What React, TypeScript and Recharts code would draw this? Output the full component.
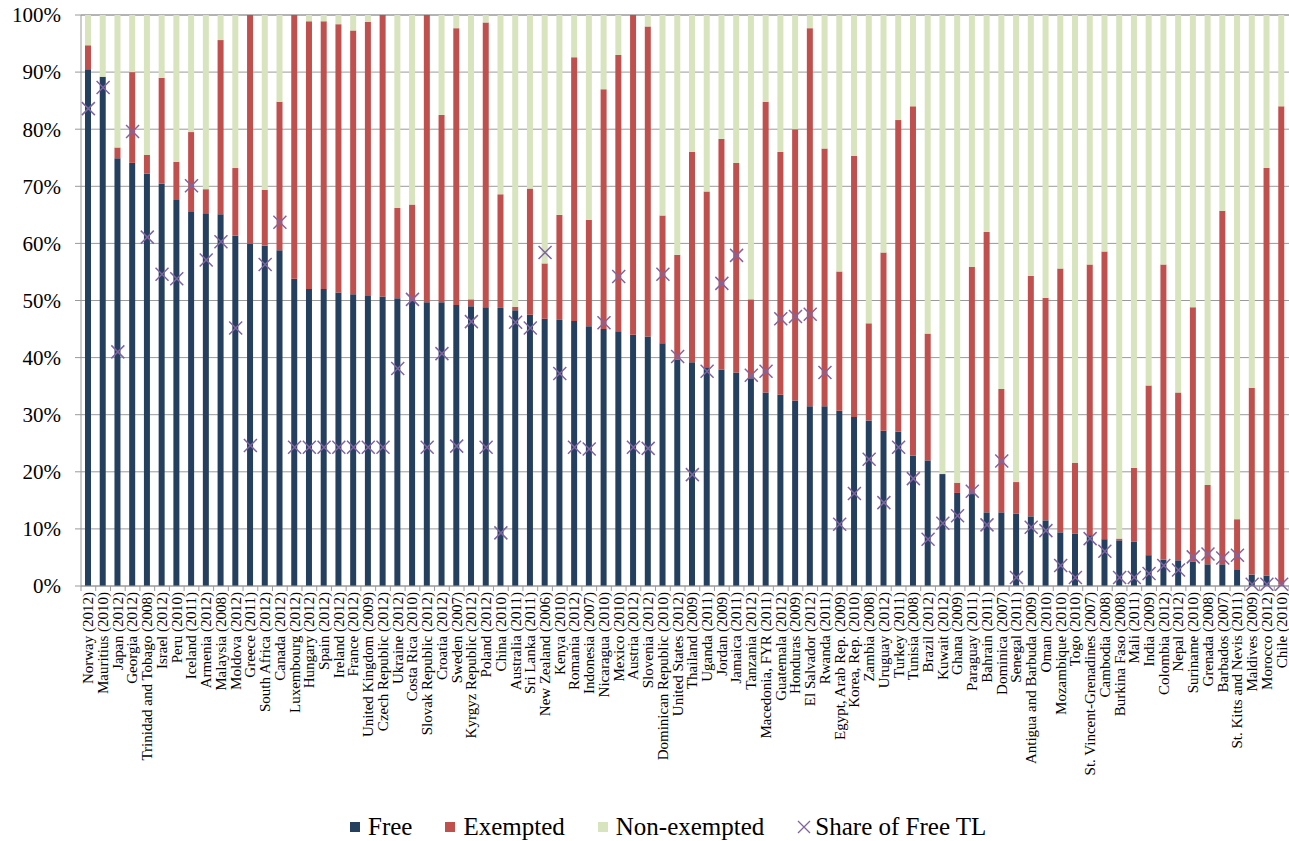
import { ComposedChart, Bar, Line, XAxis, YAxis, CartesianGrid, Legend } from 'recharts';

const countries = [
  'Norway (2012)', 'Mauritius (2010)', 'Japan (2012)', 'Georgia (2012)', 'Trinidad and Tobago (2008)',
  'Israel (2012)', 'Peru (2010)', 'Iceland (2011)', 'Armenia (2012)', 'Malaysia (2008)',
  'Moldova (2012)', 'Greece (2011)', 'South Africa (2012)', 'Canada (2012)', 'Luxembourg (2012)',
  'Hungary (2012)', 'Spain (2012)', 'Ireland (2012)', 'France (2012)', 'United Kingdom (2009)',
  'Czech Republic (2012)', 'Ukraine (2012)', 'Costa Rica (2010)', 'Slovak Republic (2012)', 'Croatia (2012)',
  'Sweden (2007)', 'Kyrgyz Republic (2012)', 'Poland (2012)', 'China (2010)', 'Australia (2011)',
  'Sri Lanka (2011)', 'New Zealand (2006)', 'Kenya (2010)', 'Romania (2012)', 'Indonesia (2007)',
  'Nicaragua (2010)', 'Mexico (2010)', 'Austria (2012)', 'Slovenia (2012)', 'Dominican Republic (2010)',
  'United States (2012)', 'Thailand (2009)', 'Uganda (2011)', 'Jordan (2009)', 'Jamaica (2011)',
  'Tanzania (2012)', 'Macedonia, FYR (2011)', 'Guatemala (2012)', 'Honduras (2009)', 'El Salvador (2012)',
  'Rwanda (2011)', 'Egypt, Arab Rep. (2009)', 'Korea, Rep. (2010)', 'Zambia (2008)', 'Uruguay (2012)',
  'Turkey (2011)', 'Tunisia (2008)', 'Brazil (2012)', 'Kuwait (2012)', 'Ghana (2009)',
  'Paraguay (2011)', 'Bahrain (2011)', 'Dominica (2007)', 'Senegal (2011)', 'Antigua and Barbuda (2009)',
  'Oman (2010)', 'Mozambique (2010)', 'Togo (2010)', 'St. Vincent-Grenadines (2007)', 'Cambodia (2008)',
  'Burkina Faso (2008)', 'Mali (2011)', 'India (2009)', 'Colombia (2012)', 'Nepal (2012)',
  'Suriname (2010)', 'Grenada (2008)', 'Barbados (2007)', 'St. Kitts and Nevis (2011)', 'Maldives (2009)',
  'Morocco (2012)', 'Chile (2010)',
];

const free = [
  90.5, 89.2, 74.9, 74.1, 72.2, 70.5, 67.6, 65.5, 65.3, 65.1,
  61.4, 59.9, 59.6, 58.8, 53.8, 52.0, 52.0, 51.4, 51.1, 50.8,
  50.7, 50.4, 49.9, 49.7, 49.7, 49.2, 49.0, 48.8, 48.7, 48.3,
  47.5, 46.8, 46.6, 46.4, 45.5, 45.0, 44.6, 44.0, 43.7, 42.5,
  39.6, 39.2, 38.3, 37.9, 37.4, 36.4, 33.9, 33.5, 32.5, 31.5,
  31.5, 30.7, 29.6, 29.0, 27.2, 27.0, 22.8, 22.0, 19.6, 16.3,
  16.1, 12.9, 12.9, 12.7, 12.2, 11.5, 9.4, 9.2, 8.9, 8.2,
  8.0, 7.8, 5.4, 4.6, 4.5, 4.3, 3.8, 3.8, 2.8, 2.0,
  1.8, 0.2,
];

const exempted = [
  4.2, 0, 1.9, 15.9, 3.3, 18.5, 6.7, 14.0, 4.2, 30.5,
  11.8, 40.1, 9.8, 26.0, 46.2, 46.9, 46.9, 47.0, 46.2, 48.0,
  49.3, 15.8, 16.9, 50.3, 32.8, 48.5, 1.2, 49.9, 19.9, 0.6,
  22.1, 9.7, 18.4, 46.2, 18.6, 42.0, 48.4, 56.0, 54.3, 22.4,
  18.4, 36.8, 30.8, 40.4, 36.7, 13.8, 50.9, 42.5, 47.5, 66.2,
  45.1, 24.4, 45.7, 17.0, 31.2, 54.6, 61.2, 22.2, 0, 1.8,
  39.8, 49.1, 21.6, 5.5, 42.1, 39.0, 46.2, 12.4, 47.4, 50.4,
  0.3, 12.9, 29.7, 51.7, 29.4, 44.5, 13.9, 61.9, 8.9, 32.7,
  71.4, 83.8,
];

const nonExempted = [
  5.3, 10.8, 23.2, 10.0, 24.5, 11.0, 25.7, 20.5, 30.5, 4.4,
  26.8, 0, 30.6, 15.2, 0, 1.1, 1.1, 1.6, 2.7, 1.2,
  0, 33.8, 33.2, 0, 17.5, 2.3, 49.8, 1.3, 31.4, 51.1,
  30.4, 43.5, 35.0, 7.4, 35.9, 13.0, 7.0, 0, 2.0, 35.1,
  42.0, 24.0, 30.9, 21.7, 25.9, 49.8, 15.2, 24.0, 20.0, 2.3,
  23.4, 44.9, 24.7, 54.0, 41.6, 18.4, 16.0, 55.8, 80.4, 81.9,
  44.1, 38.0, 65.5, 81.8, 45.7, 49.5, 44.4, 78.4, 43.7, 41.4,
  91.7, 79.3, 64.9, 43.7, 66.1, 51.2, 82.3, 34.3, 88.3, 65.3,
  26.8, 16.0,
];

const shareFreeTL = [
  83.6, 87.3, 41.0, 79.6, 61.1, 54.6, 53.8, 70.1, 57.1, 60.3,
  45.2, 24.6, 56.3, 63.7, 24.3, 24.3, 24.3, 24.3, 24.3, 24.3,
  24.3, 38.1, 50.2, 24.3, 40.7, 24.5, 46.3, 24.3, 9.3, 46.2,
  45.2, 58.4, 37.2, 24.3, 24.0, 46.1, 54.2, 24.3, 24.1, 54.6,
  40.2, 19.5, 37.6, 53.0, 57.9, 36.9, 37.6, 46.8, 47.2, 47.6,
  37.4, 10.8, 16.2, 22.2, 14.6, 24.3, 18.8, 8.2, 11.0, 12.3,
  16.6, 10.7, 21.9, 1.5, 10.3, 9.7, 3.6, 1.5, 8.3, 6.1,
  1.5, 1.5, 2.2, 3.6, 2.8, 5.1, 5.6, 4.9, 5.4, 0.3,
  0.3, 0.3,
];

const yTicks = [0, 10, 20, 30, 40, 50, 60, 70, 80, 90, 100];

const data = countries.map((name, i) => ({
  name,
  free: free[i],
  exempted: exempted[i],
  nonExempted: nonExempted[i],
  share: shareFreeTL[i],
}));

const SERIF = '"Liberation Serif", "Times New Roman", Times, serif';
const WIDTH = 1289;
const HEIGHT = 841;
const Y_AXIS_W = 81;
const BAND = (WIDTH - Y_AXIS_W) / countries.length;
const AXIS_GREY = '#9a9a9a';

const COLORS = {
  free: '#25405F',
  exempted: '#C0504D',
  nonExempted: '#D7E4BD',
  share: '#8064A2',
};

const CountryTick = (props: any) => {
  const { x, y, payload, index } = props;
  const left = x - BAND / 2;
  return (
    <g>
      <line x1={left} y1={y} x2={left} y2={y + 5} stroke={AXIS_GREY} />
      {index === countries.length - 1 && (
        <line x1={x + BAND / 2} y1={y} x2={x + BAND / 2} y2={y + 5} stroke={AXIS_GREY} />
      )}
      <text
        x={x}
        y={y + 6}
        transform={`rotate(-90, ${x}, ${y + 6})`}
        textAnchor="end"
        dy="0.33em"
        fontFamily={SERIF}
        fontSize={15}
        fill="#000"
      >
        {payload.value}
      </text>
    </g>
  );
};

// labels sit 20px left of the axis line, right aligned
const PercentTick = (props: any) => {
  const { y, payload } = props;
  return (
    <text
      x={Y_AXIS_W - 20}
      y={y}
      dy="0.35em"
      textAnchor="end"
      style={{ fontFamily: SERIF, fontSize: 21 }}
      fill="#000"
    >
      {`${payload.value}%`}
    </text>
  );
};

const XMark = (props: any) => {
  const { cx, cy, index } = props;
  if (cx == null || cy == null) return <g key={`x-${index}`} />;
  const s = 6.5;
  return (
    <path
      key={`x-${index}`}
      d={`M${cx - s},${cy - s}L${cx + s},${cy + s}M${cx - s},${cy + s}L${cx + s},${cy - s}`}
      stroke={COLORS.share}
      strokeWidth={1.5}
      fill="none"
    />
  );
};

const LegendBox = () => {
  const items = [
    { label: 'Free', color: COLORS.free },
    { label: 'Exempted', color: COLORS.exempted },
    { label: 'Non-exempted', color: COLORS.nonExempted },
  ];
  return (
    <div
      style={{
        display: 'flex',
        justifyContent: 'flex-start',
        alignItems: 'center',
        gap: 33,
        fontFamily: SERIF,
        fontSize: 25,
        lineHeight: '29px',
        color: '#000',
        paddingLeft: 350,
      }}
    >
      {items.map((it) => (
        <span key={it.label} style={{ display: 'flex', alignItems: 'center' }}>
          <span style={{ width: 10, height: 10, background: it.color, marginRight: 8, display: 'inline-block' }} />
          {it.label}
        </span>
      ))}
      <span style={{ display: 'flex', alignItems: 'center' }}>
        <svg width={14} height={14} style={{ marginRight: 4 }}>
          <path d="M1,1L13,13M1,13L13,1" stroke={COLORS.share} strokeWidth={1.3} />
        </svg>
        Share of Free TL
      </span>
    </div>
  );
};

export default function App() {
  return (
    <div style={{ position: 'absolute', left: 0, top: 0, background: '#fff' }}>
      <ComposedChart
        width={WIDTH}
        height={HEIGHT}
        data={data}
        margin={{ top: 15, right: 0, bottom: 0, left: 0 }}
        barCategoryGap={0}
      >
        <CartesianGrid vertical={false} stroke={AXIS_GREY} />
        <XAxis
          dataKey="name"
          interval={0}
          height={215}
          tickSize={0}
          tickMargin={0}
          tick={<CountryTick />}
          axisLine={{ stroke: AXIS_GREY }}
          tickLine={false}
        />
        <YAxis
          width={Y_AXIS_W}
          domain={[0, 100]}
          ticks={yTicks}
          interval={0}
          tick={<PercentTick />}
          axisLine={{ stroke: AXIS_GREY }}
          tickLine={{ stroke: AXIS_GREY }}
          tickSize={6}
          tickMargin={14}
        />
        <Legend
          verticalAlign="bottom"
          height={40}
          content={<LegendBox />}
          wrapperStyle={{ top: 812, bottom: 'auto', left: 0, width: WIDTH }}
        />
        <Bar dataKey="free" stackId="a" fill={COLORS.free} barSize={6} isAnimationActive={false} />
        <Bar dataKey="exempted" stackId="a" fill={COLORS.exempted} barSize={6} isAnimationActive={false} />
        <Bar dataKey="nonExempted" stackId="a" fill={COLORS.nonExempted} barSize={6} isAnimationActive={false} />
        <Line
          dataKey="share"
          stroke="none"
          dot={XMark}
          activeDot={false}
          legendType="none"
          isAnimationActive={false}
        />
      </ComposedChart>
    </div>
  );
}
